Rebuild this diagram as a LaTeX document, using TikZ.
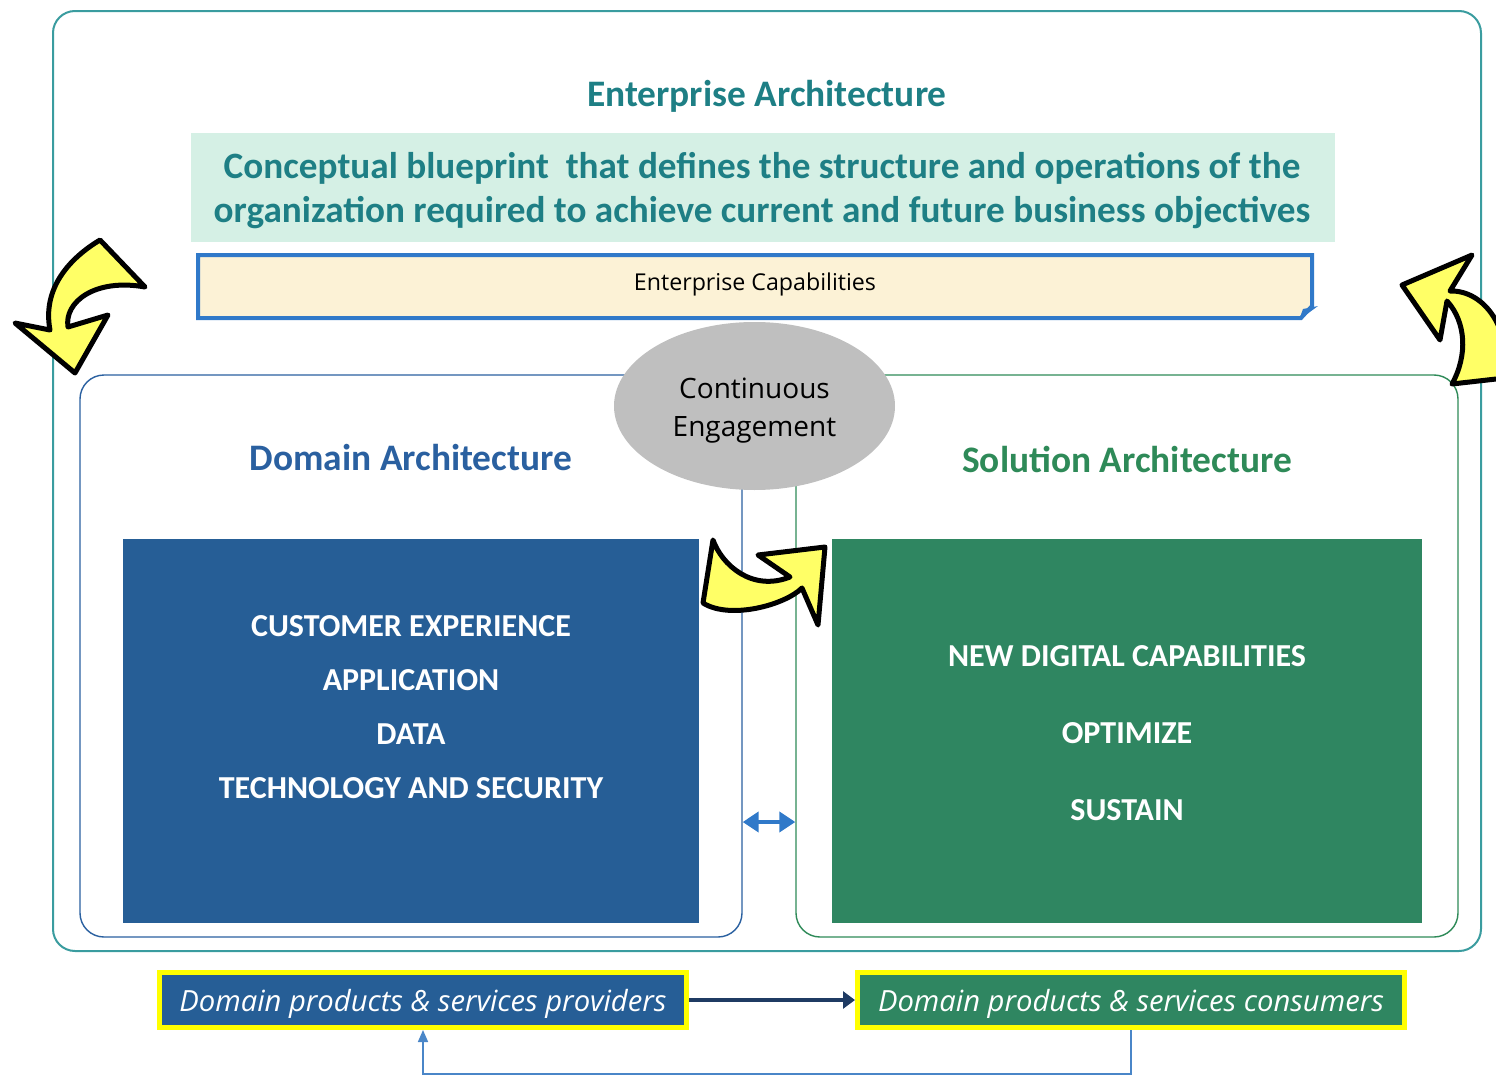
\documentclass[tikz,border=0pt]{standalone}
\usepackage{fontspec}
\setmainfont{Carlito}
\newfontfamily\uifont{Open Sans}
\usetikzlibrary{shapes.geometric,arrows.meta}
\definecolor{eaframe}{HTML}{3A9C9F}
\definecolor{eateal}{HTML}{1E7F85}
\definecolor{mint}{HTML}{D5F0E5}
\definecolor{cream}{HTML}{FCF2D6}
\definecolor{capblue}{HTML}{3079C9}
\definecolor{domblue}{HTML}{2A60A0}
\definecolor{solgreen}{HTML}{2E8A58}
\definecolor{boxblue}{HTML}{265E96}
\definecolor{boxgreen}{HTML}{2F8661}
\definecolor{cegray}{HTML}{BFBFBF}
\definecolor{yel}{HTML}{FFFF00}
\definecolor{arrowyel}{HTML}{FFFF66}
\definecolor{navy}{HTML}{1F3B63}
\definecolor{fbblue}{HTML}{4A86C8}
\begin{document}
\begin{tikzpicture}[x=0.5pt,y=-0.5pt,
  frame/.style={line width=0.7pt, rounded corners=12pt, minimum width=331pt, minimum height=281pt, inner sep=0pt},
  bigbox/.style={minimum height=192pt, inner sep=0pt},
  boxtext/.style={text=white, align=center},
  yarrow/.style={fill=arrowyel, draw=black, line width=2.5pt, line join=round},
  bottombox/.style={draw=yel, line width=2.5pt, minimum height=27.5pt, inner sep=0pt, text=white, text height=14pt, text depth=2.5pt, font=\uifont\itshape\fontsize{14.6}{17}\selectfont},
  arch/.style={font=\bfseries\fontsize{18.7}{22}\selectfont}
]
\useasboundingbox (0,0) rectangle (1496,1076);

% outer frame
\node[draw=eaframe, line width=1pt, rounded corners=11pt, minimum width=714pt, minimum height=470pt, inner sep=0pt] (ea) at (767,481) {};
\node[text=eateal, font=\bfseries\fontsize{18.7}{22}\selectfont] (eat) at (767,96) {Enterprise Architecture};

% blueprint
\node[fill=mint, minimum width=572pt, minimum height=54.5pt, inner sep=0pt] (bp) at (763,187.5) {};
\node[align=center, text=eateal, font=\bfseries\fontsize{18.6}{22}\selectfont] (bptxt) at (762,191) {Conceptual blueprint\ \ that defines the structure and operations of the\\organization required to achieve current and future business objectives};

% enterprise capabilities
\draw[capblue, line width=2pt, fill=cream] (198,255) -- (1312,255) -- (1312,306) -- (1301,318) -- (198,318) -- cycle;
\fill[capblue] (1299,320) -- (1303,309) -- (1318,306) -- cycle;
\node[font=\uifont\fontsize{11.6}{14}\selectfont] (ecap) at (755,284) {Enterprise Capabilities};

% inner frames
\node[frame, draw=domblue] (dom) at (411,656) {};
\node[frame, draw=solgreen] (sol) at (1127,656) {};

% ellipse
\node[ellipse, fill=cegray, minimum width=140.5pt, minimum height=84pt, inner sep=0pt] (ce) at (754.5,406) {};
\node[align=center, font=\uifont\fontsize{14}{19}\selectfont] (cetxt) at (754.5,411) {Continuous\\Engagement};

\node[arch, text=domblue] (domt) at (411,458) {Domain Architecture};
\node[arch, text=solgreen] (solt) at (1127,459) {Solution Architecture};

% big boxes
\node[bigbox, fill=boxblue, minimum width=288pt] (dbox) at (411,731) {};
\node[boxtext, font=\bfseries\fontsize{16}{27}\selectfont] (dtxt) at (411,707) {CUSTOMER EXPERIENCE\\APPLICATION\\DATA\\TECHNOLOGY AND SECURITY};
\node[bigbox, fill=boxgreen, minimum width=295pt] (sbox) at (1127,731) {};
\node[boxtext, font=\bfseries\fontsize{16}{38.5}\selectfont] (stxt) at (1127,733) {NEW DIGITAL CAPABILITIES\\OPTIMIZE\\SUSTAIN};

% double arrow
\coordinate (dy) at (0,822);
\draw[capblue, line width=2.4pt, {Triangle[length=8pt,width=10pt]}-{Triangle[length=8pt,width=10pt]}] (dom.east |- dy) -- (sol.west |- dy);

% yellow arrows
\path[yarrow] (100,240) .. controls (70,258) and (42,288) .. (50,330) -- (15,323) -- (75,373) -- (108,315) -- (68,327) .. controls (64,302) and (95,278) .. (145,287) -- cycle;
\path[yarrow] (1402,285) -- (1472,255) -- (1450,291) .. controls (1485,290) and (1512,330) .. (1505,378) -- (1452,384) .. controls (1468,355) and (1466,322) .. (1447,301) -- (1440,340) -- cycle;
\path[yarrow] (713,540) .. controls (722,565) and (752,592) .. (790,577) -- (758,555) -- (825,547) -- (818,625) -- (802,588) .. controls (785,605) and (730,620) .. (703,603) -- cycle;

% bottom boxes
\node[bottombox, fill=boxblue, minimum width=263.5pt] (prov) at (423,1000) {Domain products \& services providers};
\node[bottombox, fill=boxgreen, minimum width=273.5pt] (cons) at (1131,1000) {Domain products \& services consumers};
\draw[navy, line width=2.4pt, -{Triangle[length=6pt,width=8.5pt]}] (prov) -- (cons);
\coordinate (fb) at (0,1074);
\draw[fbblue, line width=0.8pt, -{Triangle[length=6pt,width=5pt]}] (cons.south) -- (cons.south |- fb) -| (prov.south);
\end{tikzpicture}
\end{document}
